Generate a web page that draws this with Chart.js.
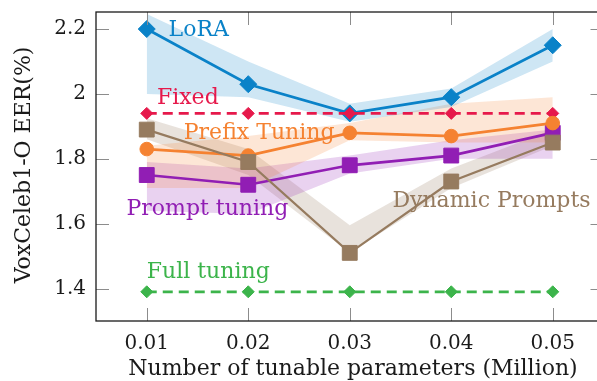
<!DOCTYPE html>
<html>
<head>
<meta charset="utf-8">
<script src="https://cdn.jsdelivr.net/npm/chart.js@4"></script>
<style>
  html, body { margin: 0; padding: 0; background: #fff; overflow: hidden; }
  #wrap { width: 615px; height: 381px; }
</style>
</head>
<body>
<div id="wrap"><canvas id="eerChart" width="615" height="381"></canvas></div>
<script>
// x positions (Million params) and tick labels
const params = [0.01, 0.02, 0.03, 0.04, 0.05];
const xTicks = [0.01, 0.02, 0.03, 0.04, 0.05];
const xTickLabels = ['0.01', '0.02', '0.03', '0.04', '0.05'];
const yTicks = [1.4, 1.6, 1.8, 2.0, 2.2];
const yTickLabels = ['1.4', '1.6', '1.8', '2', '2.2'];

// series values (EER %)
const loraEER    = [2.20, 2.03, 1.94, 1.99, 2.15];
const fixedEER   = [1.94, 1.94, 1.94, 1.94, 1.94];
const prefixEER  = [1.83, 1.81, 1.88, 1.87, 1.91];
const promptEER  = [1.75, 1.72, 1.78, 1.81, 1.88];
const dynamicEER = [1.89, 1.79, 1.51, 1.73, 1.85];
const fullEER    = [1.39, 1.39, 1.39, 1.39, 1.39];

// shaded ranges
const loraHi    = [2.246, 2.10, 1.97, 2.017, 2.20];
const loraLo    = [2.00, 1.99, 1.914, 1.96, 2.10];
const prefixHi  = [1.84, 1.87, 1.91, 1.97, 1.99];
const prefixLo  = [1.71, 1.71, 1.857, 1.85, 1.85];
const promptHi  = [1.79, 1.77, 1.81, 1.857, 1.89];
const promptLo  = [1.64, 1.63, 1.755, 1.80, 1.80];
const dynamicHi = [1.925, 1.83, 1.595, 1.77, 1.89];
const dynamicLo = [1.86, 1.75, 1.51, 1.71, 1.84];

const seriesNames = ['LoRA', 'Fixed', 'Prefix Tuning', 'Prompt tuning', 'Dynamic Prompts', 'Full tuning'];

const C = {
    lora: '#0a82c8', fixed: '#e6194b', prefix: '#f58231',
    prompt: '#911eb4', dynamic: '#967b5f', full: '#3cb44b'
};

const FONT = '"DejaVu Serif", serif';
const pts = arr => arr.map((v, i) => ({ x: params[i], y: v }));

function line(label, data, color, style, radius, opts) {
    return Object.assign({
        label, data: pts(data),
        borderColor: color, backgroundColor: color,
        borderWidth: 2.7, pointStyle: style, pointRadius: radius,
        pointBorderWidth: 1, pointBorderColor: color, pointBackgroundColor: color,
        fill: false, tension: 0
    }, opts || {});
}
function band(data, color, fill) {
    return {
        label: '', data: pts(data), borderWidth: 0, pointRadius: 0,
        backgroundColor: color, borderColor: 'transparent',
        fill: fill, tension: 0
    };
}

// index 0 is drawn on top, bands come last so they sit under the lines
const datasets = [
    line(seriesNames[5], fullEER, C.full, 'rectRot', 6, { borderDash: [10, 6] }),
    line(seriesNames[4], dynamicEER, C.dynamic, 'rect', 10.5, { borderWidth: 2.2 }),
    line(seriesNames[2], prefixEER, C.prefix, 'circle', 6.8),
    line(seriesNames[3], promptEER, C.prompt, 'rect', 10.5),
    line(seriesNames[1], fixedEER, C.fixed, 'rectRot', 6, { borderDash: [10, 6] }),
    line(seriesNames[0], loraEER, C.lora, 'rectRot', 8.5),
    band(loraHi, 'rgba(10,130,200,0.2)', '+1'),
    band(loraLo, 'transparent', false),
    band(prefixHi, 'rgba(245,130,49,0.2)', '+1'),
    band(prefixLo, 'transparent', false),
    band(promptHi, 'rgba(145,30,180,0.2)', '+1'),
    band(promptLo, 'transparent', false),
    band(dynamicHi, 'rgba(150,123,95,0.22)', '+1'),
    band(dynamicLo, 'transparent', false)
];

// text labels next to each curve, anchored in data coordinates
const curveLabels = [
    { text: seriesNames[0], x: 0.01215, y: 2.196, color: C.lora },
    { text: seriesNames[1], x: 0.0110,  y: 1.987, color: C.fixed },
    { text: seriesNames[2], x: 0.01365, y: 1.880, color: C.prefix },
    { text: seriesNames[3], x: 0.0080,  y: 1.645, color: C.prompt },
    { text: seriesNames[4], x: 0.0342,  y: 1.670, color: C.dynamic },
    { text: seriesNames[5], x: 0.0100,  y: 1.450, color: C.full }
];

const framePlugin = {
    id: 'frame',
    afterDatasetsDraw(chart) {
        const { ctx, chartArea: a, scales: { x, y } } = chart;
        ctx.save();
        // curve labels
        ctx.font = '22px ' + FONT;
        ctx.textBaseline = 'middle';
        ctx.textAlign = 'left';
        curveLabels.forEach(l => {
            ctx.fillStyle = l.color;
            ctx.fillText(l.text, x.getPixelForValue(l.x), y.getPixelForValue(l.y));
        });
        // inward ticks on all four sides
        ctx.strokeStyle = '#8c8c8c';
        ctx.lineWidth = 1;
        const tl = 13;
        ctx.beginPath();
        xTicks.forEach(v => {
            const px = Math.round(x.getPixelForValue(v)) + 0.5;
            ctx.moveTo(px, a.bottom); ctx.lineTo(px, a.bottom - tl);
            ctx.moveTo(px, a.top); ctx.lineTo(px, a.top + tl);
        });
        yTicks.forEach(v => {
            const py = Math.round(y.getPixelForValue(v)) + 0.5;
            ctx.moveTo(a.left, py); ctx.lineTo(a.left + tl, py);
            ctx.moveTo(a.right, py); ctx.lineTo(a.right - tl, py);
        });
        ctx.stroke();
        // axis box
        ctx.strokeStyle = '#1a1a1a';
        ctx.lineWidth = 1.3;
        ctx.strokeRect(a.left, a.top, a.right - a.left, a.bottom - a.top);
        // axis titles
        ctx.fillStyle = '#1a1a1a';
        ctx.font = '22px ' + FONT;
        ctx.textAlign = 'center';
        ctx.textBaseline = 'middle';
        ctx.fillText('Number of tunable parameters (Million)', 353, 369);
        ctx.translate(24, 165);
        ctx.rotate(-Math.PI / 2);
        ctx.fillText('VoxCeleb1-O EER(%)', 0, 0);
        ctx.restore();
    }
};

new Chart(document.getElementById('eerChart'), {
    type: 'line',
    data: { datasets },
    options: {
        responsive: false,
        animation: false,
        layout: { padding: { top: 12, right: 6, left: 0, bottom: 0 } },
        plugins: { legend: { display: false }, tooltip: { enabled: false } },
        scales: {
            x: {
                type: 'linear', min: 0.005, max: 0.055,
                grid: { display: false, drawTicks: false },
                border: { display: false },
                afterBuildTicks: s => { s.ticks = xTicks.map(v => ({ value: v })); },
                afterFit: s => { s.height = 60; s.paddingLeft = 0; s.paddingRight = 0; },
                ticks: {
                    autoSkip: false, maxRotation: 0, padding: 11, color: '#1a1a1a',
                    font: { family: FONT, size: 20 },
                    callback: (v, i) => xTickLabels[i]
                }
            },
            y: {
                type: 'linear', min: 1.3, max: 2.2525,
                grid: { display: false, drawTicks: false },
                border: { display: false },
                afterBuildTicks: s => { s.ticks = yTicks.map(v => ({ value: v })); },
                afterFit: s => { s.width = 96; s.paddingTop = 0; s.paddingBottom = 0; },
                ticks: {
                    autoSkip: false, padding: 10, color: '#1a1a1a',
                    font: { family: FONT, size: 20 },
                    callback: (v, i) => yTickLabels[i]
                }
            }
        }
    },
    plugins: [framePlugin]
});
</script>
</body>
</html>
